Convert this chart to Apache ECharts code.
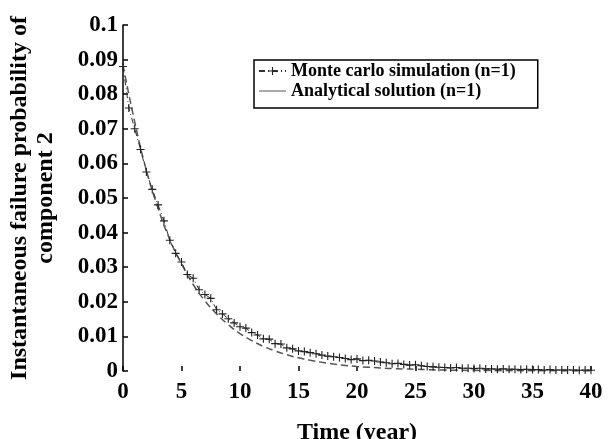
<!DOCTYPE html>
<html>
<head>
<meta charset="utf-8">
<script src="https://cdn.jsdelivr.net/npm/echarts@6/dist/echarts.min.js"></script>
<style>html,body{margin:0;padding:0;background:#fff}#c{width:610px;height:439px}</style>
</head>
<body>
<div id="c"></div>
<script>
// Monte Carlo simulation, time step 0.5 year
var mcTime = [0,0.5,1,1.5,2,2.5,3,3.5,4,4.5,5,5.5,6,6.5,7,7.5,8,8.5,9,9.5,10,10.5,11,11.5,12,12.5,13,13.5,14,14.5,15,15.5,16,16.5,17,17.5,18,18.5,19,19.5,20,20.5,21,21.5,22,22.5,23,23.5,24,24.5,25,25.5,26,26.5,27,27.5,28,28.5,29,29.5,30,30.5,31,31.5,32,32.5,33,33.5,34,34.5,35,35.5,36,36.5,37,37.5,38,38.5,39,39.5,40];
var mcValues = [0.088,0.076,0.070,0.064,0.0575,0.0525,0.048,0.0434,0.0378,0.034,0.0315,0.0279,0.0268,0.0235,0.0221,0.0210,0.0177,0.0165,0.0151,0.0139,0.0128,0.0124,0.0111,0.0104,0.0093,0.0092,0.0079,0.0078,0.0067,0.0064,0.0058,0.0056,0.0053,0.0050,0.0046,0.0043,0.0041,0.0039,0.0036,0.0033,0.0035,0.0030,0.0031,0.0029,0.0026,0.0024,0.0021,0.0022,0.0019,0.0017,0.0018,0.0015,0.0013,0.0012,0.0011,0.0010,0.0009,0.0010,0.0008,0.0008,0.0007,0.0008,0.0006,0.0006,0.0005,0.0006,0.0005,0.0005,0.0004,0.0005,0.0004,0.0004,0.0003,0.0004,0.0003,0.0003,0.0003,0.0003,0.0002,0.0003,0.0002];
// Analytical solution, time step 1 year
var anTime = [0,1,2,3,4,5,6,7,8,9,10,11,12,13,14,15,16,17,18,19,20,21,22,23,24,25,26,27,28,29,30,31,32,33,34,35,36,37,38,39,40];
var anValues = [0.0885,0.072,0.058,0.047,0.038,0.031,0.025,0.0203,0.0165,0.0134,0.0108,0.0088,0.0071,0.0058,0.0047,0.0038,0.0031,0.0025,0.0020,0.0016,0.0013,0.0011,0.0009,0.0007,0.0006,0.0005,0.0004,0.0003,0.00025,0.0002,0.00016,0.00013,0.0001,0.00008,0.00007,0.00006,0.00005,0.00004,0.00003,0.000025,0.00002];
var xTickLabels = ['0','5','10','15','20','25','30','35','40'];
var yTickLabels = ['0','0.01','0.02','0.03','0.04','0.05','0.06','0.07','0.08','0.09','0.1'];
var seriesNames = ['Monte carlo simulation (n=1)','Analytical solution (n=1)'];

function zip(a,b){var r=[];for(var i=0;i<a.length;i++)r.push([a[i],b[i]]);return r;}
var FONT = 'Liberation Serif';
var plus = 'path://M-0.7,-5h1.4v4.3h4.3v1.4h-4.3v4.3h-1.4v-4.3h-4.3v-1.4h4.3z';

var chart = echarts.init(document.getElementById('c'), null, {renderer:'canvas'});
chart.setOption({
  animation:false,
  backgroundColor:'#fff',
  grid:{left:123,right:19,top:25,bottom:68,containLabel:false,outerBoundsMode:'none'},
  xAxis:{
    type:'value',min:0,max:40,interval:5,
    name:'Time (year)',nameLocation:'middle',nameGap:50,
    nameTextStyle:{fontFamily:FONT,fontWeight:'bold',fontSize:24,color:'#000'},
    axisLine:{show:false},
    axisTick:{show:true,inside:true,length:5,lineStyle:{color:'#000',width:1.5}},
    axisLabel:{fontFamily:FONT,fontWeight:'bold',fontSize:23,color:'#000',margin:10,
      formatter:function(v){return xTickLabels[Math.round(v/5)];}},
    splitLine:{show:false}
  },
  yAxis:{
    type:'value',min:0,max:0.1,interval:0.01,
    name:'Instantaneous failure probability of\ncomponent 2',nameLocation:'middle',nameRotate:90,nameGap:64,
    nameTextStyle:{fontFamily:FONT,fontWeight:'bold',fontSize:24,lineHeight:26,color:'#000',align:'center'},
    axisLine:{show:true,lineStyle:{color:'#000',width:1.5}},
    axisTick:{show:true,inside:true,length:5,lineStyle:{color:'#000',width:1.5}},
    axisLabel:{fontFamily:FONT,fontWeight:'bold',fontSize:23,color:'#000',margin:5,
      formatter:function(v){return yTickLabels[Math.round(v*100)];}},
    splitLine:{show:false}
  },
  legend:{
    orient:'vertical',left:254,top:60,
    backgroundColor:'#fff',borderColor:'#000',borderWidth:1.5,
    padding:[2,22,8,4],itemGap:2,itemWidth:27,itemHeight:10,
    textStyle:{fontFamily:FONT,fontWeight:'bold',fontSize:18,color:'#000'},
    data:[
      {name:seriesNames[0]},
      {name:seriesNames[1],icon:'path://M0,0h30v1h-30z',itemStyle:{color:'#444'},lineStyle:{type:'solid',color:'#444'}}
    ]
  },
  series:[
    {
      name:seriesNames[1],type:'line',data:zip(anTime,anValues),smooth:true,
      showSymbol:false,symbol:'none',
      lineStyle:{color:'#555',width:1.5,type:[7,4]},itemStyle:{color:'#555'},z:2
    },
    {
      name:seriesNames[0],type:'line',data:zip(mcTime,mcValues),
      symbol:plus,symbolSize:8,showSymbol:true,
      lineStyle:{color:'#333',width:1,type:[6,3,1,3]},
      itemStyle:{color:'#222'},z:3
    }
  ]
});
</script>
</body>
</html>
